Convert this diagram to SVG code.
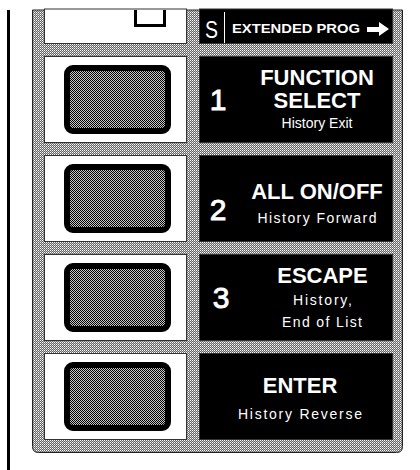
<svg xmlns="http://www.w3.org/2000/svg" width="420" height="470" viewBox="0 0 420 470">
  <defs>
    <pattern id="btnDither" width="2" height="2" patternUnits="userSpaceOnUse">
      <rect width="2" height="2" fill="#c8c8c8"/>
      <rect x="0" y="0" width="1" height="1" fill="#000"/>
      <rect x="1" y="1" width="1" height="1" fill="#000"/>
    </pattern>
    <pattern id="frameDither" width="2" height="2" patternUnits="userSpaceOnUse">
      <rect width="2" height="2" fill="#666"/>
      <rect x="0" y="0" width="1" height="1" fill="#fff"/>
      <rect x="1" y="1" width="1" height="1" fill="#bbb"/>
    </pattern>
  </defs>
  <style>
    .cellW { fill: #fff; stroke: #333; stroke-width: 1; }
    .cellB { fill: #000; stroke: #333; stroke-width: 1; }
    .btn { fill: url(#btnDither); stroke: #000; stroke-width: 6; }
    .t { fill: #fff; font-family: "Liberation Sans", Arial, sans-serif; }
    .big { font-weight: bold; font-size: 22px; text-anchor: middle; }
    .num { font-size: 30px; text-anchor: middle; stroke: #fff; stroke-width: 0.9; }
    .small { font-size: 14px; text-anchor: middle; }
  </style>
  <rect width="420" height="470" fill="#fff"/>
  <rect x="7" y="10" width="3" height="460" fill="#000"/>
  <g id="frame">
    <path d="M32.5,10 V446.5 Q32.5,452.5 38.5,452.5 H396.5 Q402.5,452.5 402.5,446.5 V10 Z" fill="url(#frameDither)" stroke="#222" stroke-width="1"/>
  </g>
  <g id="row0">
    <rect class="cellW" x="44.5" y="9" width="142" height="34.5"/>
    <path d="M135.5,10 V25.5 H164.5 V10" fill="none" stroke="#000" stroke-width="3"/>
    <rect class="cellB" x="199.5" y="9" width="193" height="34.5"/>
    <text class="t" x="205" y="38" font-size="24" textLength="13" lengthAdjust="spacingAndGlyphs">S</text>
    <rect x="224" y="12" width="1" height="31" fill="#fff"/>
    <text class="t" x="232" y="33" font-size="12.5" font-weight="bold" textLength="128" lengthAdjust="spacingAndGlyphs">EXTENDED PROG</text>
    <path d="M367,27 H379 V22 L389,29 L379,36 V32 H367 Z" fill="#fff"/>
  </g>
  <g id="key1">
    <rect class="cellW" x="44.5" y="56.5" width="142" height="86"/>
    <rect class="btn" x="67" y="68" width="101" height="63" rx="6"/>
    <rect class="cellB" x="199.5" y="56.5" width="193" height="86"/>
    <text class="t num" x="218" y="110">1</text>
    <text class="t big" x="317" y="85">FUNCTION</text>
    <text class="t big" x="317" y="108">SELECT</text>
    <text class="t small" x="317" y="128">History Exit</text>
  </g>
  <g id="key2">
    <rect class="cellW" x="44.5" y="155.5" width="142" height="86"/>
    <rect class="btn" x="67" y="167" width="101" height="63" rx="6"/>
    <rect class="cellB" x="199.5" y="155.5" width="193" height="86"/>
    <text class="t num" x="218" y="220">2</text>
    <text class="t big" x="317" y="199">ALL ON/OFF</text>
    <text class="t small" x="317" y="223" textLength="119" lengthAdjust="spacing">History Forward</text>
  </g>
  <g id="key3">
    <rect class="cellW" x="44.5" y="254.5" width="142" height="86"/>
    <rect class="btn" x="67" y="266" width="101" height="63" rx="6"/>
    <rect class="cellB" x="199.5" y="254.5" width="193" height="86"/>
    <text class="t num" x="221" y="308">3</text>
    <text class="t big" x="322.5" y="283">ESCAPE</text>
    <text class="t small" x="322.5" y="305" textLength="59" lengthAdjust="spacing">History,</text>
    <text class="t small" x="322" y="327" textLength="80" lengthAdjust="spacing">End of List</text>
  </g>
  <g id="key4">
    <rect class="cellW" x="44.5" y="353.5" width="142" height="86"/>
    <rect class="btn" x="67" y="365" width="101" height="63" rx="6"/>
    <rect class="cellB" x="199.5" y="353.5" width="193" height="86"/>
    <text class="t big" x="300" y="393" font-size="28">ENTER</text>
    <text class="t small" x="300" y="419" textLength="124" lengthAdjust="spacing">History Reverse</text>
  </g>
  <g id="connectors"/>
</svg>
